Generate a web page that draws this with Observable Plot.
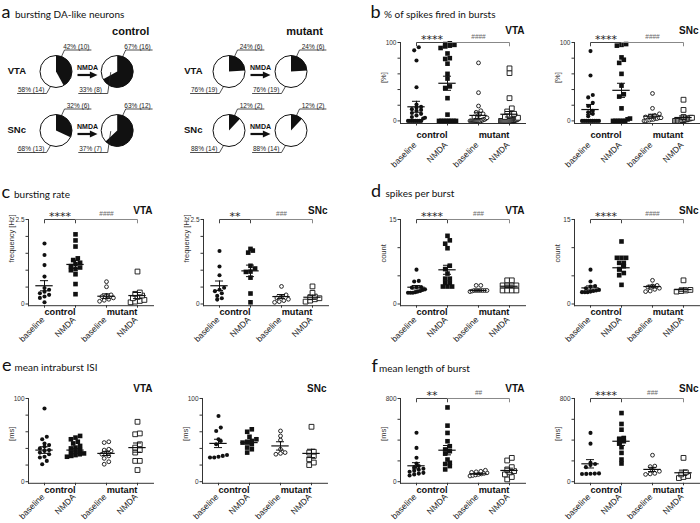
<!DOCTYPE html>
<html><head><meta charset="utf-8">
<script src="https://cdn.jsdelivr.net/npm/d3@7"></script>
<script src="https://cdn.jsdelivr.net/npm/@observablehq/plot@0.6"></script>
<style>
html,body{margin:0;padding:0;background:#fff;}
#fig{position:relative;width:700px;height:523px;overflow:hidden;background:#fff;}
</style></head><body><div id="fig"></div>
<script>
// ---------------- DATA ----------------
// panel a: bursting DA-like neurons (pie charts)
const pieGenotype  = ["control","control","mutant","mutant","control","control","mutant","mutant"];
const pieRegion    = ["VTA","VTA","VTA","VTA","SNc","SNc","SNc","SNc"];
const pieTreatment = ["baseline","NMDA","baseline","NMDA","baseline","NMDA","baseline","NMDA"];
const burstingPct    = [42, 67, 24, 24, 32, 63, 12, 12];
const burstingN      = [10, 16, 6, 6, 6, 12, 2, 2];
const nonBurstingPct = [58, 33, 76, 76, 68, 37, 88, 88];
const nonBurstingN   = [14, 8, 19, 19, 13, 7, 14, 14];

// shared categories
const categoryLabels = ["baseline", "NMDA", "baseline", "NMDA"];
const genotypes = ["control", "mutant"];
const regions = ["VTA", "SNc"];

// panel b: % of spikes fired in bursts [%]
const spikesInBurstsVTA = [
  [94, 90, 77, 43, 21, 18, 17, 15, 14, 13, 10, 9, 7, 5, 4, 3, 0, 0, 0, 0, 0, 0, 0, 0],
  [99, 98, 97, 96, 95, 93, 86, 80, 79, 73, 60, 54, 44, 42, 29, 8, 0, 0, 0, 0, 0, 0, 0, 0],
  [74, 36, 19, 13, 11, 9, 7, 5, 4, 3, 2, 2, 1, 1, 0, 0, 0, 0, 0, 0, 0, 0, 0, 0, 0],
  [67, 61, 29, 16, 12, 9, 7, 5, 4, 3, 2, 2, 1, 1, 0, 0, 0, 0, 0, 0, 0, 0, 0, 0, 0]
];
const spikesInBurstsVTAMean = [18, 48, 7, 8.5];
const spikesInBurstsVTASem  = [7, 9, 4, 3.5];
const spikesInBurstsSNc = [
  [89, 58, 33, 30, 23, 19, 13, 11, 9, 6, 0, 0, 0, 0, 0, 0, 0, 0, 0],
  [98, 97, 96, 81, 78, 74, 60, 45, 34, 31, 16, 3, 2, 0, 0, 0, 0, 0, 0],
  [35, 16, 9, 7, 6, 5, 4, 4, 3, 3, 2, 2, 1, 1, 0, 0],
  [27, 14, 5, 4, 4, 3, 3, 2, 2, 1, 1, 0, 0, 0, 0, 0]
];
const spikesInBurstsSNcMean = [14.5, 39, 6, 4.3];
const spikesInBurstsSNcSem  = [6.5, 9, 2.5, 2];

// panel c: bursting rate [Hz]
const burstRateVTA = [
  [1.79, 1.45, 1.15, 0.81, 0.47, 0.42, 0.36, 0.32, 0.27, 0.22, 0.18, 0.05],
  [2.06, 1.88, 1.70, 1.35, 1.30, 1.22, 1.18, 1.12, 1.08, 1.03, 1.00, 0.88, 0.59, 0.29],
  [0.66, 0.51, 0.27, 0.25, 0.22, 0.18, 0.14, 0.11, 0.08],
  [0.96, 0.34, 0.30, 0.25, 0.21, 0.17, 0.12, 0.09, 0.07, 0.05]
];
const burstRateVTAMean = [0.54, 1.17, 0.23, 0.25];
const burstRateVTASem  = [0.15, 0.12, 0.07, 0.09];
const burstRateSNc = [
  [1.57, 1.11, 0.85, 0.48, 0.42, 0.38, 0.32, 0.24, 0.17, 0.13],
  [1.63, 1.58, 1.52, 1.13, 1.05, 0.96, 0.95, 0.78, 0.31, 0.05],
  [0.52, 0.27, 0.22, 0.18, 0.14, 0.10, 0.07, 0.05],
  [0.52, 0.33, 0.22, 0.20, 0.17, 0.14, 0.10, 0.07]
];
const burstRateSNcMean = [0.54, 0.98, 0.22, 0.20];
const burstRateSNcSem  = [0.14, 0.17, 0.06, 0.06];

// panel d: spikes per burst [count]
const spikesPerBurstVTA = [
  [6.1, 4.1, 4.0, 3.0, 3.0, 2.9, 2.6, 2.5, 2.3, 2.2, 2.1, 2.0, 2.0, 2.0],
  [12.1, 11.3, 10.7, 9.9, 6.8, 6.2, 5.4, 4.5, 4.5, 3.75, 3.75, 3.1, 3.1, 3.1],
  [3.3, 3.3, 2.4, 2.4, 2.4, 2.4, 2.4, 2.4, 2.4, 2.3, 2.2],
  [4.2, 4.2, 3.3, 3.3, 3.3, 3.3, 2.4, 2.4, 2.4, 2.4]
];
const spikesPerBurstVTAMean = [2.98, 6.07, 2.4, 3.15];
const spikesPerBurstVTASem  = [0.3, 0.8, 0.1, 0.2];
const spikesPerBurstSNc = [
  [6.1, 4.0, 3.2, 3.1, 2.8, 2.5, 2.4, 2.3, 2.2, 2.1, 2.1, 2.1],
  [11.1, 8.2, 8.2, 8.2, 7.3, 7.3, 6.7, 6.2, 5.5, 5.1, 3.4],
  [4.2, 3.3, 3.2, 3.0, 2.8, 2.6, 2.3, 2.2],
  [4.2, 2.5, 2.4, 2.3, 2.2]
];
const spikesPerBurstSNcMean = [2.86, 6.43, 3.1, 2.56];
const spikesPerBurstSNcSem  = [0.35, 0.7, 0.25, 0.3];

// panel e: mean intraburst ISI [ms]
const intraburstISIVTA = [
  [88, 54, 51, 46, 44, 42, 40, 38, 37, 35, 33, 30, 29, 25, 21],
  [55, 53, 51, 48, 46, 43, 41, 40, 38, 36, 35, 34, 33, 32, 31, 30],
  [48, 47, 39, 38, 37, 36, 33, 31, 28, 24, 21],
  [72, 58, 57, 45, 41, 38, 35, 25, 25, 14]
];
const intraburstISIVTAMean = [38, 38, 34, 41];
const intraburstISIVTASem  = [4, 2, 2.5, 5.5];
const intraburstISISNc = [
  [79, 65, 61, 51, 49, 45, 32, 31, 30, 29, 29],
  [63, 60, 54, 51, 49, 48, 47, 45, 41, 39, 35],
  [61, 55, 50, 39, 35, 34, 33],
  [66, 36, 35, 31, 27, 23, 20]
];
const intraburstISISNcMean = [46, 47, 43, 34];
const intraburstISISNcSem  = [5, 2.5, 5, 5];

// panel f: mean length of burst [ms]
const burstLengthVTA = [
  [470, 325, 230, 175, 150, 140, 125, 115, 105, 95, 85, 78, 70, 60],
  [714, 539, 469, 389, 341, 310, 293, 270, 213, 182, 170, 150, 118],
  [110, 100, 95, 90, 85, 80, 75, 70, 65, 60, 55],
  [229, 204, 140, 118, 102, 90, 70, 45, 22]
];
const burstLengthVTAMean = [153, 303, 76, 108];
const burstLengthVTASem  = [30, 45, 6, 22];
const burstLengthSNc = [
  [469, 366, 182, 170, 160, 140, 80, 78, 76, 75, 74],
  [660, 555, 500, 420, 410, 389, 370, 331, 277, 213, 175],
  [255, 150, 145, 110, 100, 80, 75, 70],
  [229, 90, 70, 55, 45, 35]
];
const burstLengthSNcMean = [172, 389, 118, 86];
const burstLengthSNcSem  = [40, 40, 20, 25];

// significance labels [control baseline vs NMDA, control NMDA vs mutant NMDA]
const sigSpikesInBurstsVTA = ["****", "####"];
const sigSpikesInBurstsSNc = ["****", "####"];
const sigBurstRateVTA = ["****", "####"];
const sigBurstRateSNc = ["**", "###"];
const sigSpikesPerBurstVTA = ["****", "###"];
const sigSpikesPerBurstSNc = ["****", "####"];
const sigBurstLengthVTA = ["**", "##"];
const sigBurstLengthSNc = ["****", "###"];

// panel titles
const panelLetters = ["a", "b", "c", "d", "e", "f"];
const panelTitles = ["bursting DA-like neurons", "% of spikes fired in bursts", "bursting rate",
                     "spikes per burst", "mean intraburst ISI", "mean length of burst"];

// ---------------- RENDERING ----------------
const fig = document.getElementById("fig");
const FONT = "'Liberation Sans', Arial, Helvetica, sans-serif";
const NARROW = "'Liberation Sans Narrow', 'Arial Narrow', 'Liberation Sans', Arial, sans-serif";
const catPos = [1, 2, 3, 4];
const X_PX = 31; // pixels per category unit

function place(el, left, top) {
  el.style.position = "absolute";
  el.style.left = left + "px";
  el.style.top = top + "px";
  el.style.overflow = "visible";
  fig.appendChild(el);
}

// Prism-like scatter: points at (nearly) the same height are spread horizontally
function swarm(values, g, ppu) {
  const pts = values.map(v => ({v, py: v * ppu})).sort((a, b) => a.py - b.py);
  const out = [];
  let cluster = [];
  const flush = () => {
    const k = cluster.length;
    const s = k > 1 ? Math.min(4.6, 17 / (k - 1)) : 0;
    cluster.forEach((p, i) => out.push({x: catPos[g] + ((i - (k - 1) / 2) * s) / X_PX, y: p.v, g}));
    cluster = [];
  };
  for (const p of pts) {
    if (cluster.length && p.py - cluster[0].py > 3.4) flush();
    cluster.push(p);
  }
  if (cluster.length) flush();
  return out;
}

function dotPlot(cfg) {
  const {values, means, sems, yMax, step, yLabel, sig, region, axisX, topPx, zeroPx, axisPx, regionDy, groupDy, catDy} = cfg;
  const W = 125, mL = 34, mR = 8, mT = 24, mB = 60;
  const ppu = (zeroPx - topPx) / yMax;
  const yMin = -(axisPx - zeroPx) / ppu;
  const pts = values.flatMap((vals, g) => swarm(vals, g, ppu));
  const stats = means.map((m, g) => ({x: catPos[g], mean: m, sem: sems[g]}));
  const caps = stats.flatMap(d => [{x: d.x, y: d.mean - d.sem}, {x: d.x, y: d.mean + d.sem}]);
  const tk = 3.4 / ppu;
  const ticks = d3.range(0, yMax + step / 2, step);
  const marks = [
    Plot.dot(pts.filter(d => d.g === 0), {x: "x", y: "y", r: 2.05, fill: "#111", symbol: "circle"}),
    Plot.dot(pts.filter(d => d.g === 1), {x: "x", y: "y", r: 2.6, fill: "#111", symbol: "square"}),
    Plot.dot(pts.filter(d => d.g === 2), {x: "x", y: "y", r: 1.9, fill: "white", stroke: "#111", strokeWidth: 0.9, symbol: "circle"}),
    Plot.dot(pts.filter(d => d.g === 3), {x: "x", y: "y", r: 2.7, fill: "white", stroke: "#111", strokeWidth: 0.9, symbol: "square"}),
    Plot.ruleY(stats, {y: "mean", x1: d => d.x - 0.28, x2: d => d.x + 0.28, stroke: "#111", strokeWidth: 1.2}),
    Plot.ruleX(stats, {x: "x", y1: d => d.mean - d.sem, y2: d => d.mean + d.sem, stroke: "#111", strokeWidth: 1}),
    Plot.ruleY(caps, {y: "y", x1: d => d.x - 0.13, x2: d => d.x + 0.13, stroke: "#111", strokeWidth: 1}),
    Plot.text([yLabel], {text: d => d, frameAnchor: "left", dx: -17, rotate: -90, fontSize: 7.5, fill: "#333", fontFamily: FONT}),
    Plot.text(genotypes, {text: d => d, x: [1.5, 3.5], frameAnchor: "bottom", dy: groupDy, lineAnchor: "bottom", fontSize: 9.2, fontWeight: "bold", fill: "#111", fontFamily: FONT}),
    Plot.text(categoryLabels, {text: d => d, x: catPos, frameAnchor: "bottom", dx: 0.5, dy: catDy, rotate: -45, textAnchor: "end", fontSize: 8.5, fill: "#222", fontFamily: FONT}),
    Plot.text([region], {text: d => d, frameAnchor: "top-right", dx: -1, dy: regionDy, textAnchor: "end", lineAnchor: "bottom", fontSize: 10, fontWeight: "bold", fill: "#111", fontFamily: FONT})
  ];
  if (sig) {
    const br1 = [{x: 1, y: yMax - tk}, {x: 1, y: yMax}, {x: 2, y: yMax}, {x: 2, y: yMax - tk}];
    const br2 = [{x: 2, y: yMax}, {x: 4, y: yMax}, {x: 4, y: yMax - tk}];
    marks.push(
      Plot.line(br1, {x: "x", y: "y", stroke: "#444", strokeWidth: 1}),
      Plot.line(br2, {x: "x", y: "y", stroke: "#888", strokeWidth: 1}),
      Plot.text([{x: 1.5, y: yMax, t: sig[0]}], {x: "x", y: "y", text: "t", lineAnchor: "bottom", dy: 0.5, fontSize: 11, fill: "#222", fontFamily: "'DejaVu Sans', sans-serif"}),
      Plot.text([{x: 3, y: yMax, t: sig[1]}], {x: "x", y: "y", text: "t", lineAnchor: "bottom", dy: -3.8, fontSize: 6.5, fill: "#666", fontFamily: FONT})
    );
  }
  const plot = Plot.plot({
    width: mL + W + mR,
    height: mT + (axisPx - topPx) + mB,
    marginLeft: mL, marginRight: mR, marginTop: mT, marginBottom: mB,
    style: {fontFamily: NARROW, fontSize: "6.5px", color: "#333", background: "transparent", overflow: "visible"},
    x: {domain: [1 - 16 / X_PX, 4 + 16 / X_PX], ticks: catPos, tickFormat: () => "", tickSize: 2.5, line: true, label: null},
    y: {domain: [yMin, yMax], ticks, tickFormat: d => (d === 0 || Math.abs(d - yMax) < 1e-9) ? String(d) : "",
        tickSize: 2.5, tickPadding: 1.5, line: true, label: null},
    marks
  });
  place(plot, axisX - mL, topPx - mT);
}

// row geometry (pixel positions of the top tick, the zero level and the x axis line)
const rowB = {topPx: 42.3, zeroPx: 120.7, axisPx: 123.3, regionDy: -9, groupDy: 14, catDy: 22};
const rowC = {topPx: 218.8, zeroPx: 303.3, axisPx: 305, regionDy: -5.8, groupDy: 9, catDy: 14.5};
const rowE = {topPx: 397.5, zeroPx: 480.7, axisPx: 482.3, regionDy: -6.5, groupDy: 9.5, catDy: 14};

dotPlot({...rowB, axisX: 400, values: spikesInBurstsVTA, means: spikesInBurstsVTAMean, sems: spikesInBurstsVTASem, yMax: 100, step: 20, yLabel: "[%]", sig: sigSpikesInBurstsVTA, region: regions[0]});
dotPlot({...rowB, axisX: 573.5, values: spikesInBurstsSNc, means: spikesInBurstsSNcMean, sems: spikesInBurstsSNcSem, yMax: 100, step: 20, yLabel: "[%]", sig: sigSpikesInBurstsSNc, region: regions[1]});
dotPlot({...rowC, axisX: 28, values: burstRateVTA, means: burstRateVTAMean, sems: burstRateVTASem, yMax: 2.5, step: 0.5, yLabel: "frequency [Hz]", sig: sigBurstRateVTA, region: regions[0]});
dotPlot({...rowC, axisX: 203, values: burstRateSNc, means: burstRateSNcMean, sems: burstRateSNcSem, yMax: 2.5, step: 0.5, yLabel: "frequency [Hz]", sig: sigBurstRateSNc, region: regions[1]});
dotPlot({...rowC, axisX: 400, values: spikesPerBurstVTA, means: spikesPerBurstVTAMean, sems: spikesPerBurstVTASem, yMax: 15, step: 5, yLabel: "count", sig: sigSpikesPerBurstVTA, region: regions[0]});
dotPlot({...rowC, axisX: 573.5, values: spikesPerBurstSNc, means: spikesPerBurstSNcMean, sems: spikesPerBurstSNcSem, yMax: 15, step: 5, yLabel: "count", sig: sigSpikesPerBurstSNc, region: regions[1]});
dotPlot({...rowE, axisX: 28, values: intraburstISIVTA, means: intraburstISIVTAMean, sems: intraburstISIVTASem, yMax: 100, step: 20, yLabel: "[ms]", sig: null, region: regions[0]});
dotPlot({...rowE, axisX: 202, values: intraburstISISNc, means: intraburstISISNcMean, sems: intraburstISISNcSem, yMax: 100, step: 20, yLabel: "[ms]", sig: null, region: regions[1]});
dotPlot({...rowE, axisX: 400, values: burstLengthVTA, means: burstLengthVTAMean, sems: burstLengthVTASem, yMax: 800, step: 200, yLabel: "[ms]", sig: sigBurstLengthVTA, region: regions[0]});
dotPlot({...rowE, axisX: 573.5, values: burstLengthSNc, means: burstLengthSNcMean, sems: burstLengthSNcSem, yMax: 800, step: 200, yLabel: "[ms]", sig: sigBurstLengthSNc, region: regions[1]});

// ---------- panel a: pies ----------
const pieCX = {control: {baseline: 55.5, NMDA: 116.7}, mutant: {baseline: 228.5, NMDA: 290.5}};
const pieCY = {VTA: 71, SNc: 130};
const regionLabelX = {control: 25.5, mutant: 202};
const PIE_R = 16;
const pies = pieGenotype.map((gt, i) => ({
  cx: pieCX[gt][pieTreatment[i]], cy: pieCY[pieRegion[i]], frac: burstingPct[i] / 100,
  top: `${burstingPct[i]}% (${burstingN[i]})`, bottom: `${nonBurstingPct[i]}% (${nonBurstingN[i]})`
}));
const wedge = frac => ({
  draw(ctx, size) {
    const r = Math.sqrt(size / Math.PI);
    ctx.moveTo(0, 0);
    ctx.arc(0, 0, r, -Math.PI / 2, -Math.PI / 2 + 2 * Math.PI * frac);
    ctx.closePath();
  }
});
const triRight = {
  draw(ctx, size) {
    const r = Math.sqrt(size / Math.PI);
    ctx.moveTo(r, 0); ctx.lineTo(-r * 0.7, -r * 0.8); ctx.lineTo(-r * 0.7, r * 0.8); ctx.closePath();
  }
};
const leaders = pies.flatMap((p, i) => {
  const inner = p.frac > 0.55;
  return [
    {id: "t" + i, x: p.cx + 5.5, y: p.cy - 15}, {id: "t" + i, x: p.cx + 8.5, y: p.cy - 21.5}, {id: "t" + i, x: p.cx + 35, y: p.cy - 21.5},
    {id: "b" + i, x: p.cx - 38.5, y: p.cy + 22}, {id: "b" + i, x: p.cx - 9.5, y: p.cy + 22},
    {id: "b" + i, x: inner ? p.cx - 6.5 : p.cx - 5.5, y: inner ? p.cy + 1 : p.cy + 15}
  ];
});
const arrows = genotypes.flatMap(gt => regions.map(rg => ({gt, rg, x1: pieCX[gt].baseline + 21.5, x2: pieCX[gt].baseline + 41.5, y: pieCY[rg] + 3.5})));
const pieMarks = [
  Plot.dot(pies, {x: "cx", y: "cy", r: PIE_R, fill: "white", stroke: "none"}),
  ...pies.map(p => Plot.dot([p], {x: "cx", y: "cy", r: PIE_R, fill: "#111", symbol: wedge(p.frac)})),
  Plot.dot(pies, {x: "cx", y: "cy", r: PIE_R, fill: "none", stroke: "#111", strokeWidth: 1}),
  Plot.line(leaders, {x: "x", y: "y", z: "id", stroke: "#222", strokeWidth: 0.8}),
  Plot.text(pies, {x: d => d.cx + 33.5, y: d => d.cy - 23, text: "top", textAnchor: "end", lineAnchor: "bottom", fontSize: 6.5, fill: "#222", fontFamily: NARROW}),
  Plot.text(pies, {x: d => d.cx - 38, y: d => d.cy + 20.5, text: "bottom", textAnchor: "start", lineAnchor: "bottom", fontSize: 6.5, fill: "#222", fontFamily: NARROW}),
  Plot.link(arrows, {x1: "x1", x2: d => d.x2 - 6, y1: "y", y2: "y", stroke: "#111", strokeWidth: 2.2}),
  Plot.dot(arrows, {x: d => d.x2 - 4.5, y: "y", r: 4.5, symbol: triRight, fill: "#111"}),
  Plot.text(arrows, {x: d => (d.x1 + d.x2) / 2, y: d => d.y - 5.5, text: () => "NMDA", lineAnchor: "bottom", fontSize: 7, fontWeight: "bold", fill: "#111", fontFamily: FONT}),
  Plot.text(arrows, {x: d => regionLabelX[d.gt], y: d => pieCY[d.rg] + 2, text: "rg", textAnchor: "end", lineAnchor: "bottom", fontSize: 9.5, fontWeight: "bold", fill: "#111", fontFamily: FONT}),
  Plot.text(genotypes, {x: g => pieCX[g].NMDA + 13.5, y: () => 34, text: d => d, lineAnchor: "bottom", fontSize: 11, fontWeight: "bold", fill: "#111", fontFamily: FONT})
];
const piePlot = Plot.plot({
  width: 350, height: 175, margin: 0,
  style: {fontFamily: FONT, background: "transparent", overflow: "visible"},
  x: {domain: [0, 350], range: [0, 350], axis: null},
  y: {domain: [0, 175], range: [0, 175], axis: null},
  r: {type: "identity"},
  marks: pieMarks
});
place(piePlot, 0, 0);

// ---------- panel titles ----------
const letterX = [1.5, 370.5, 1.5, 371, 2, 371.5];
const titleX = [15, 384, 14, 385.5, 14.5, 379];
const titleY = [18.3, 18.3, 198, 197, 371, 372];
const ov = d3.create("svg").attr("width", 700).attr("height", 523)
  .style("position", "absolute").style("left", "0px").style("top", "0px").style("pointer-events", "none");
panelLetters.forEach((l, i) => {
  ov.append("text").attr("x", letterX[i]).attr("y", titleY[i]).attr("font-family", "Lato, 'Open Sans', sans-serif")
    .attr("font-size", 18).attr("fill", "#111").text(l);
  ov.append("text").attr("x", titleX[i]).attr("y", titleY[i]).attr("font-family", "Lato, 'Open Sans', sans-serif")
    .attr("font-size", 10).attr("fill", "#111").text(panelTitles[i]);
});
fig.appendChild(ov.node());
</script></body></html>
